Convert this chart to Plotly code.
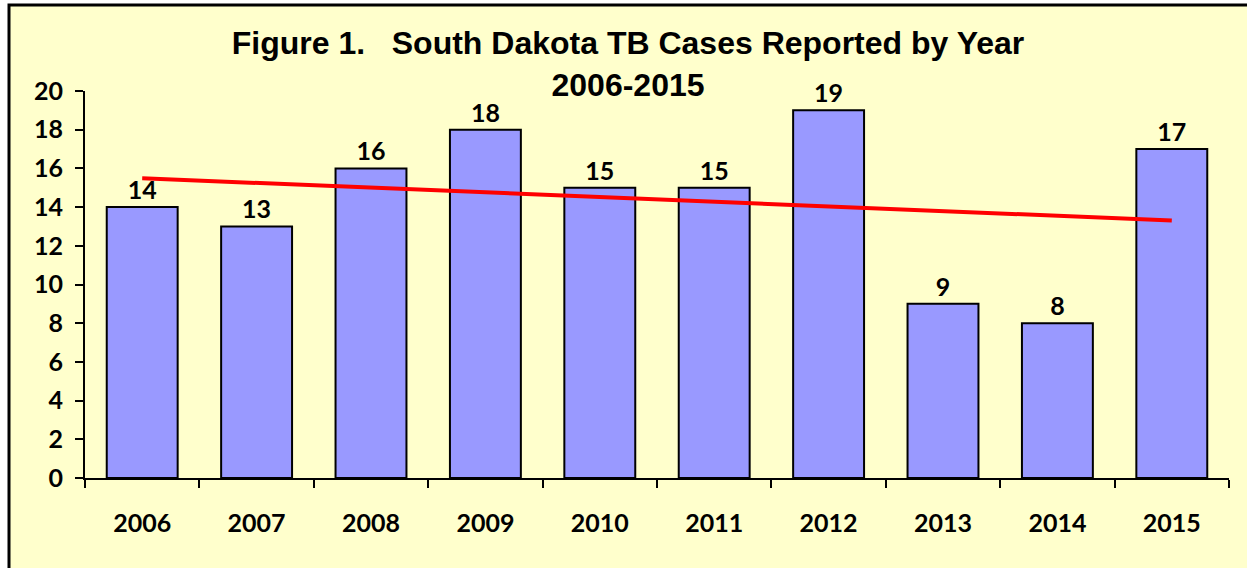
import numpy as np
import plotly.graph_objects as go

years = ["2006", "2007", "2008", "2009", "2010", "2011", "2012", "2013", "2014", "2015"]
cases = [14, 13, 16, 18, 15, 15, 19, 9, 8, 17]
y_ticks = [0, 2, 4, 6, 8, 10, 12, 14, 16, 18, 20]

# linear trend line (least squares fit of the case counts)
idx = np.arange(len(cases))
slope, intercept = np.polyfit(idx, cases, 1)
trend = [intercept + slope * i for i in (idx[0], idx[-1])]
trend_x = [years[0], years[-1]]

label_font = dict(family="Lato, Carlito, Calibri, sans-serif", size=25, color="black", weight="bold")

fig = go.Figure()
fig.add_trace(go.Bar(
    x=years, y=cases,
    marker=dict(color="#9999FF", line=dict(color="black", width=2)),
    text=[str(v) for v in cases], textposition="outside",
    textfont=label_font, cliponaxis=False,
    width=0.62, showlegend=False, hoverinfo="x+y",
))
fig.add_trace(go.Scatter(
    x=trend_x, y=trend, mode="lines",
    line=dict(color="#FF0000", width=4), showlegend=False,
))

fig.update_layout(
    width=1247, height=568,
    margin=dict(l=85, r=18, t=91, b=90),
    paper_bgcolor="white",
    plot_bgcolor="rgba(0,0,0,0)",
    title=dict(
        text="Figure 1.   South Dakota TB Cases Reported by Year<br>2006-2015",
        x=628 / 1247, xanchor="center", y=1 - 54 / 568, yanchor="middle",
        font=dict(family="Liberation Sans, Arial, sans-serif", size=32, color="black", weight="bold"),
    ),
    font=label_font,
    xaxis=dict(
        type="category", showgrid=False, showline=True, linecolor="black", linewidth=2,
        ticks="outside", tickson="boundaries", ticklen=8, tickwidth=2, tickcolor="black",
        tickfont=label_font, ticklabelstandoff=22,
    ),
    yaxis=dict(
        range=[0, 20], tickvals=y_ticks, showgrid=False, zeroline=False,
        showline=True, linecolor="black", linewidth=2,
        ticks="outside", ticklen=8, tickwidth=2, tickcolor="black",
        tickfont=label_font, ticklabelstandoff=7,
    ),
    shapes=[dict(
        type="rect", xref="paper", yref="paper",
        x0=(9 - 85) / 1144, x1=1.2, y0=-0.4, y1=(478 - 5) / 387,
        fillcolor="#FFFFCC", line=dict(color="black", width=3), layer="below",
    )],
    bargap=0.38,
)

fig.write_html("out.html", config={"displayModeBar": False},
               post_script="document.body.style.margin='0';")
